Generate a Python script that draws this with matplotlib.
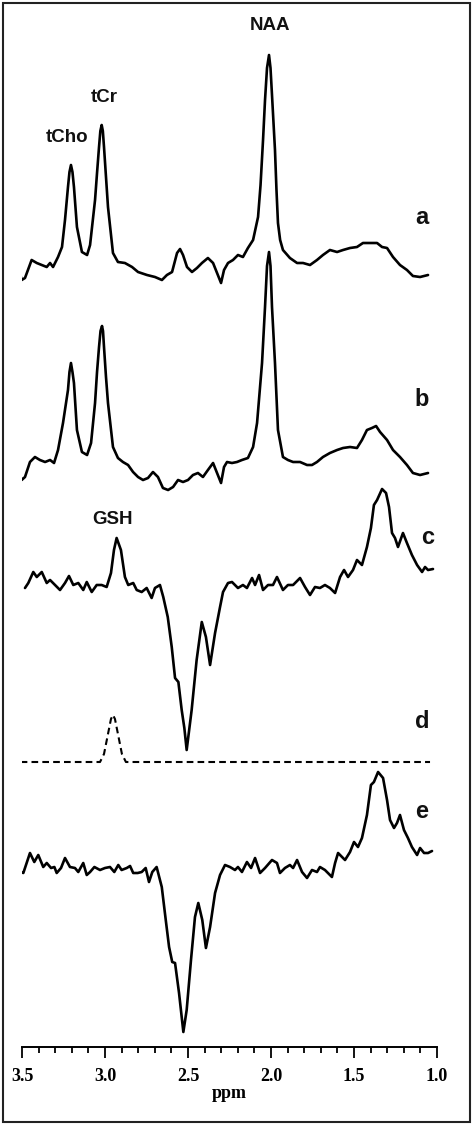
import matplotlib
matplotlib.use('Agg')
import matplotlib.pyplot as plt
from matplotlib.patches import Rectangle
from matplotlib.ticker import MultipleLocator
import numpy as np

# ---- spectra (ppm, intensity in arbitrary units) ----
ppm_a = [3.522, 3.502, 3.482, 3.442, 3.411, 3.381, 3.351, 3.331, 3.313, 3.283, 3.259, 3.241,
         3.223, 3.214, 3.205, 3.196, 3.187, 3.169, 3.139, 3.108, 3.090, 3.060, 3.048, 3.036,
         3.028, 3.020, 3.013, 3.006, 2.994, 2.982, 2.952, 2.922, 2.880, 2.837, 2.801, 2.747,
         2.699, 2.657, 2.627, 2.596, 2.566, 2.548, 2.530, 2.506, 2.476, 2.446, 2.416, 2.380,
         2.349, 2.325, 2.301, 2.283, 2.259, 2.229, 2.199, 2.169, 2.139, 2.108, 2.078, 2.063,
         2.048, 2.036, 2.024, 2.012, 2.003, 1.994, 1.976, 1.967, 1.958, 1.945, 1.928, 1.886,
         1.843, 1.807, 1.765, 1.723, 1.687, 1.645, 1.602, 1.566, 1.524, 1.482, 1.446, 1.404,
         1.361, 1.331, 1.301, 1.265, 1.223, 1.181, 1.145, 1.102, 1.054]
int_a = [-2, -15, -13, 5, 2, 0, -2, 2, -2, 8, 18, 45,
         78, 93, 100, 93, 78, 38, 13, 10, 20, 65, 92, 118,
         134, 140, 134, 118, 88, 58, 12, 3, 2, -2, -7, -10,
         -12, -15, -10, -7, 12, 16, 10, -2, -7, -3, 2, 7,
         2, -8, -18, -5, 2, 5, 10, 8, 17, 25, 48, 80,
         125, 165, 197, 210, 197, 170, 115, 75, 42, 25, 15, 7,
         2, 2, 0, 5, 10, 15, 13, 15, 17, 18, 22, 22,
         22, 18, 17, 8, 0, -5, -11, -12, -10]

ppm_b = [3.522, 3.502, 3.482, 3.452, 3.422, 3.392, 3.361, 3.331, 3.307, 3.283, 3.253, 3.223,
         3.214, 3.205, 3.196, 3.187, 3.169, 3.139, 3.108, 3.084, 3.060, 3.048, 3.036, 3.027,
         3.018, 3.012, 3.006, 2.994, 2.982, 2.952, 2.922, 2.892, 2.861, 2.831, 2.801, 2.771,
         2.741, 2.711, 2.681, 2.651, 2.620, 2.590, 2.560, 2.530, 2.500, 2.470, 2.440, 2.410,
         2.380, 2.349, 2.325, 2.301, 2.283, 2.265, 2.235, 2.205, 2.175, 2.139, 2.108, 2.084,
         2.054, 2.036, 2.024, 2.012, 2.003, 1.994, 1.976, 1.958, 1.928, 1.898, 1.867, 1.825,
         1.783, 1.753, 1.723, 1.687, 1.645, 1.602, 1.566, 1.524, 1.482, 1.452, 1.422, 1.392,
         1.367, 1.343, 1.301, 1.265, 1.223, 1.181, 1.145, 1.102, 1.054]
int_b = [-8, -18, -15, 0, 5, 2, 0, 2, -1, 12, 39, 72,
         90, 99, 90, 79, 32, 10, 7, 19, 59, 90, 115, 131,
         136, 131, 115, 85, 59, 15, 4, 0, -3, -10, -15, -18,
         -16, -10, -15, -26, -28, -25, -18, -20, -18, -13, -11, -15,
         -8, -1, -11, -21, -5, 0, -1, 0, 2, 4, 15, 39,
         99, 155, 196, 210, 196, 155, 99, 32, 5, 2, 0, 0,
         -3, -3, 0, 5, 9, 12, 14, 15, 14, 22, 32, 34,
         36, 30, 22, 12, 5, -3, -11, -13, -11]

ppm_c = [3.482, 3.462, 3.432, 3.411, 3.381, 3.351, 3.331, 3.301, 3.271, 3.241, 3.217, 3.191,
         3.161, 3.131, 3.110, 3.080, 3.050, 3.020, 2.990, 2.964, 2.946, 2.930, 2.904, 2.880,
         2.860, 2.830, 2.809, 2.779, 2.749, 2.719, 2.699, 2.669, 2.649, 2.622, 2.598, 2.578,
         2.558, 2.538, 2.522, 2.508, 2.478, 2.448, 2.417, 2.392, 2.367, 2.337, 2.307, 2.289,
         2.259, 2.235, 2.217, 2.199, 2.169, 2.145, 2.114, 2.096, 2.072, 2.048, 2.018, 1.988,
         1.964, 1.928, 1.898, 1.867, 1.825, 1.795, 1.765, 1.735, 1.705, 1.675, 1.645, 1.614,
         1.584, 1.560, 1.536, 1.506, 1.482, 1.452, 1.422, 1.398, 1.380, 1.361, 1.331, 1.307,
         1.289, 1.271, 1.253, 1.235, 1.205, 1.181, 1.151, 1.120, 1.090, 1.072, 1.054, 1.024]
int_c = [-3, 2, 13, 8, 13, 2, 5, 0, -5, 2, 9, 0,
         2, -5, 3, -7, 0, 0, -2, 12, 35, 47, 35, 8,
         0, 2, -5, -7, -3, -13, -3, 0, -12, -32, -62, -93,
         -97, -125, -143, -165, -125, -75, -37, -52, -80, -48, -22, -7,
         2, 3, 0, -3, 0, -3, 7, 0, 10, -5, 0, 0,
         8, -5, 0, 0, 7, -2, -10, -2, -3, 0, -3, -8,
         8, 15, 8, 15, 25, 20, 38, 57, 80, 85, 96, 92,
         78, 52, 47, 38, 52, 42, 30, 20, 13, 18, 15, 16]

ppm_d = [3.508, 3.030, 3.006, 2.982, 2.964, 2.952, 2.940, 2.922, 2.898, 2.874, 1.042]
int_d = [0, 0, 8, 28, 43, 47, 43, 28, 8, 0, 0]

ppm_e = [3.506, 3.492, 3.472, 3.452, 3.426, 3.402, 3.372, 3.351, 3.325, 3.305, 3.291, 3.265,
         3.241, 3.211, 3.181, 3.161, 3.131, 3.110, 3.090, 3.064, 3.030, 3.000, 2.970, 2.944,
         2.920, 2.900, 2.869, 2.849, 2.830, 2.803, 2.779, 2.755, 2.735, 2.715, 2.689, 2.658,
         2.634, 2.614, 2.595, 2.578, 2.554, 2.528, 2.508, 2.482, 2.458, 2.438, 2.414, 2.392,
         2.367, 2.337, 2.307, 2.277, 2.247, 2.217, 2.199, 2.175, 2.145, 2.120, 2.096, 2.066,
         2.036, 1.994, 1.964, 1.946, 1.916, 1.886, 1.867, 1.843, 1.813, 1.783, 1.753, 1.723,
         1.705, 1.675, 1.633, 1.614, 1.596, 1.554, 1.524, 1.500, 1.476, 1.452, 1.422, 1.398,
         1.380, 1.355, 1.325, 1.301, 1.283, 1.259, 1.241, 1.223, 1.199, 1.175, 1.151, 1.120,
         1.102, 1.078, 1.054, 1.030]
int_e = [-4, -5, 5, 15, 6, 13, 1, 5, 0, 1, -5, 0,
         10, 1, 0, -4, 5, -7, -4, 1, -2, 0, 1, -4,
         3, -2, 0, 2, -5, -5, -4, 0, -14, -4, 1, -19,
         -52, -79, -94, -95, -125, -164, -142, -92, -49, -35, -52, -80,
         -59, -25, -7, 3, 1, -2, 1, -4, 6, 0, 10, -5,
         0, 8, 5, -5, 0, 3, 0, 8, -4, -10, -2, -4,
         1, -2, -9, 5, 15, 8, 16, 26, 21, 30, 53, 83,
         86, 96, 90, 68, 48, 40, 45, 53, 38, 30, 21, 13,
         20, 15, 15, 17]

trace_labels = ['a', 'b', 'c', 'd', 'e']
peak_names = ['NAA', 'tCr', 'tCho', 'GSH']
x_ticks = [3.5, 3.0, 2.5, 2.0, 1.5, 1.0]

# ---- layout (figure is 475 x 1125 px) ----
W, H = 475, 1125
offsets = [-265, -462, -585, -762, -868]   # baseline of each trace

fig = plt.figure(figsize=(W / 100, H / 100), dpi=100)
ax = fig.add_axes([22 / W, (H - 1047) / H, 415 / W, (1047 - 3) / H])

traces = [(ppm_a, int_a), (ppm_b, int_b), (ppm_c, int_c), (ppm_d, int_d), (ppm_e, int_e)]
for i, (px, iy) in enumerate(traces):
    y = np.array(iy, dtype=float) + offsets[i]
    if trace_labels[i] == 'd':
        ax.plot(px, y, color='black', lw=1.5, ls=(0, (3.2, 2.0)))
    else:
        ax.plot(px, y, color='black', lw=1.9, solid_joinstyle='round', solid_capstyle='round')

ax.set_xlim(3.5, 1.0)
ax.set_ylim(-1047, -3)

for s in ['top', 'left', 'right']:
    ax.spines[s].set_visible(False)
ax.spines['bottom'].set_linewidth(1.4)
ax.set_yticks([])
ax.set_xticks(x_ticks)
ax.set_xticklabels(['%.1f' % t for t in x_ticks], fontfamily='Liberation Serif',
                   fontweight='bold', fontsize=13)
ax.xaxis.set_minor_locator(MultipleLocator(0.1))
ax.tick_params(axis='x', which='major', direction='out', length=8, width=1.3, pad=7)
ax.tick_params(axis='x', which='minor', direction='out', length=4.5, width=1.3)
ax.set_xlabel('ppm', fontfamily='Liberation Serif', fontweight='bold', fontsize=13, labelpad=0)

lab_font = dict(fontfamily='Liberation Sans', fontweight='bold', color='#111111')
ax.text(2.006, -25, peak_names[0], ha='center', va='center', fontsize=13.5, **lab_font)
ax.text(3.006, -98, peak_names[1], ha='center', va='center', fontsize=13.5, **lab_font)
ax.text(3.229, -138, peak_names[2], ha='center', va='center', fontsize=13.5, **lab_font)
ax.text(2.952, -519, peak_names[3], ha='center', va='center', fontsize=13.5, **lab_font)

label_pos = [(1.09, -218), (1.09, -400), (1.054, -537), (1.09, -722), (1.09, -812)]
for lab, (lx, ly) in zip(trace_labels, label_pos):
    ax.text(lx, ly, lab, ha='center', va='center', fontsize=17, **lab_font)

# outer frame around the whole picture
fig.patches.append(Rectangle((3 / W, 3 / H), 467 / W, 1119 / H, transform=fig.transFigure,
                             fill=False, edgecolor='#222222', lw=1.5))

fig.savefig('out.png', dpi=100)
